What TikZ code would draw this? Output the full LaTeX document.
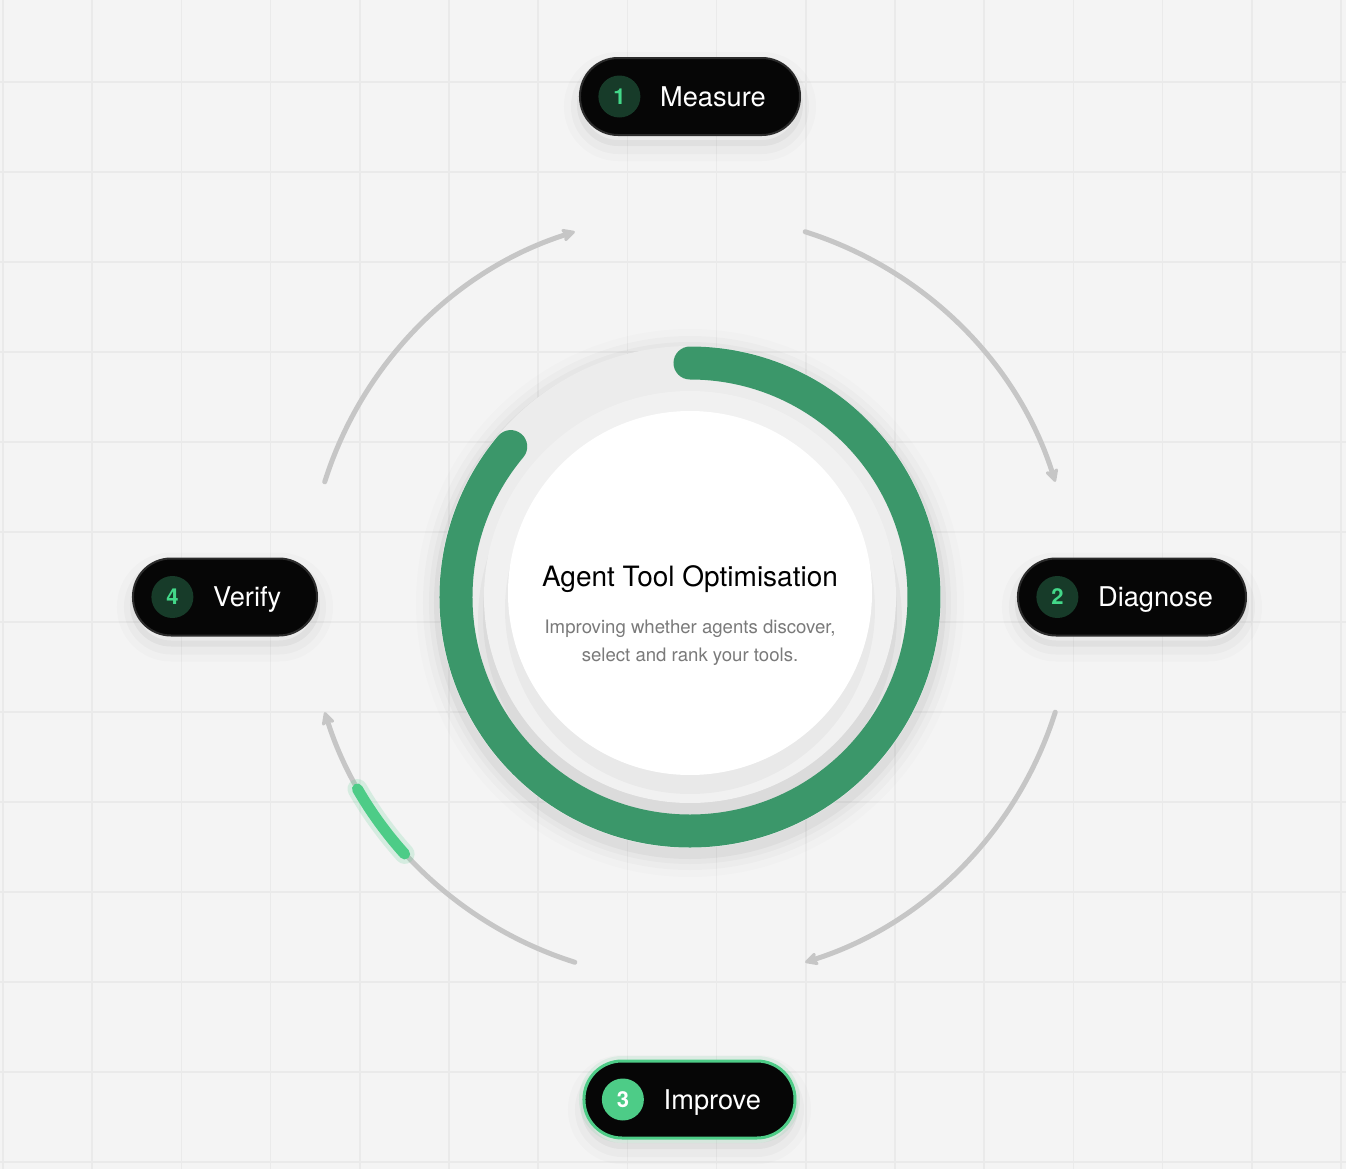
\documentclass[tikz,border=0pt]{standalone}
\usepackage{fontspec}
\setmainfont{TeX Gyre Heros}
\usetikzlibrary{positioning,arrows.meta}

\definecolor{canvas}{HTML}{F4F4F4}
\definecolor{gridline}{HTML}{EAEAEA}
\definecolor{loopgray}{HTML}{C6C6C6}
\definecolor{ringgreen}{HTML}{3B976A}
\definecolor{brightgreen}{HTML}{4DCC87}
\definecolor{dotgreen}{HTML}{173B29}
\definecolor{numgreen}{HTML}{43D889}
\definecolor{pillblack}{HTML}{060606}
\definecolor{pillrim}{HTML}{2B2B2B}
\definecolor{tracklight}{HTML}{ECECEC}
\definecolor{dialgray}{HTML}{F1F1F1}
\definecolor{subgray}{HTML}{7A7A7A}

\tikzset{
  pill/.style={rectangle, rounded corners=19pt, fill=pillblack, draw=pillrim,
    line width=1pt, minimum height=38.5pt, inner sep=0pt,
    preaction={draw=black, draw opacity=0.015, line width=16pt, transform canvas={yshift=-5pt}},
    preaction={draw=black, draw opacity=0.025, line width=9pt, transform canvas={yshift=-5pt}},
    preaction={draw=black, draw opacity=0.04, line width=3pt, transform canvas={yshift=-4pt}}},
  numdot/.style={circle, fill=dotgreen, minimum size=21pt, inner sep=0pt,
    text=numgreen, font=\fontsize{11}{13}\selectfont\bfseries},
  steptext/.style={text=white, font=\fontsize{13.6}{16}\selectfont,
    inner sep=0pt, text height=9.7pt, text depth=0pt},
  flow/.style={draw=loopgray, line width=2.5pt, line cap=round,
    -{Stealth[length=8pt, width=8pt, inset=2pt, round]}},
}

\begin{document}
\begin{tikzpicture}[x=0.5pt, y=0.5pt]
  % canvas and grid
  \fill[canvas] (-690,-572) rectangle (656,597);
  \useasboundingbox (-690,-572) rectangle (656,597);
  \foreach \k in {0,...,15}
    \draw[gridline, line width=0.75pt] ({3+89.2*\k-690},-572) -- ++(0,1169);
  \foreach \k in {0,...,12}
    \draw[gridline, line width=0.75pt] (-690,{515-90*\k}) -- ++(1346,0);

  \coordinate (hub) at (0,0);

  % the dial
  \foreach \r/\o in {274/0.012, 267/0.018, 261/0.025, 256/0.035}
    \fill[black, opacity=\o] ([yshift=-3]hub) circle (\r);
  \fill[tracklight] (hub) circle (251);
  \fill[black, opacity=0.03] ([yshift=-12]hub) circle (212);
  \fill[black, opacity=0.04] ([yshift=-9]hub) circle (207);
  \draw[ringgreen, line width=16.5pt, line cap=round]
    ([shift={(90:234)}]hub) arc[start angle=90, end angle=-220, radius=234];
  \fill[dialgray] (hub) circle (206);
  \fill[black, opacity=0.03] ([yshift=-6]hub) circle (185);
  \fill[white] ([yshift=2]hub) circle (182);

  \node[font=\fontsize{14}{16}\selectfont, anchor=base] (title) at (0,11)
    {Agent Tool Optimisation};
  \node[font=\fontsize{9.3}{14}\selectfont, text=subgray, align=center, anchor=base]
    (subtitle) at (0,-64) {Improving whether agents discover,\\select and rank your tools.};

  % loop arrows
  \draw[flow] ([shift={(72.5:383)}]hub) arc[start angle=72.5, end angle=17.5, radius=383];
  \draw[flow] ([shift={(-17.5:383)}]hub) arc[start angle=-17.5, end angle=-72.5, radius=383];
  \draw[flow] ([shift={(-107.5:383)}]hub) arc[start angle=-107.5, end angle=-162.5, radius=383];
  \draw[flow] ([shift={(162.5:383)}]hub) arc[start angle=162.5, end angle=107.5, radius=383];

  % progress marker
  \draw[brightgreen, line width=10pt, line cap=round, opacity=0.18]
    ([shift={(210:384)}]hub) arc[start angle=210, end angle=222, radius=384];
  \draw[brightgreen, line width=5.5pt, line cap=round]
    ([shift={(210:384)}]hub) arc[start angle=210, end angle=222, radius=384];

  % steps
  \node[pill, minimum width=110pt] (measure) at (0,500.5) {};
  \node[numdot, right=9.5pt of measure.west] (measure-n) {1};
  \node[steptext, right=9.5pt of measure-n] (measure-t) {Measure};

  \node[pill, minimum width=114pt] (diagnose) at (442,0) {};
  \node[numdot, right=9.5pt of diagnose.west] (diagnose-n) {2};
  \node[steptext, right=9.5pt of diagnose-n] (diagnose-t) {Diagnose};

  \node[pill, minimum width=105.5pt, draw=brightgreen, line width=1.5pt,
    preaction={draw=brightgreen, draw opacity=0.12, line width=5pt}] (improve) at (-0.5,-502.5) {};
  \node[numdot, fill=brightgreen, text=white, right=9.5pt of improve.west] (improve-n) {3};
  \node[steptext, right=9.5pt of improve-n] (improve-t) {Improve};

  \node[pill, minimum width=92pt] (verify) at (-465,0) {};
  \node[numdot, right=9.5pt of verify.west] (verify-n) {4};
  \node[steptext, right=9.5pt of verify-n] (verify-t) {Verify};
\end{tikzpicture}
\end{document}
